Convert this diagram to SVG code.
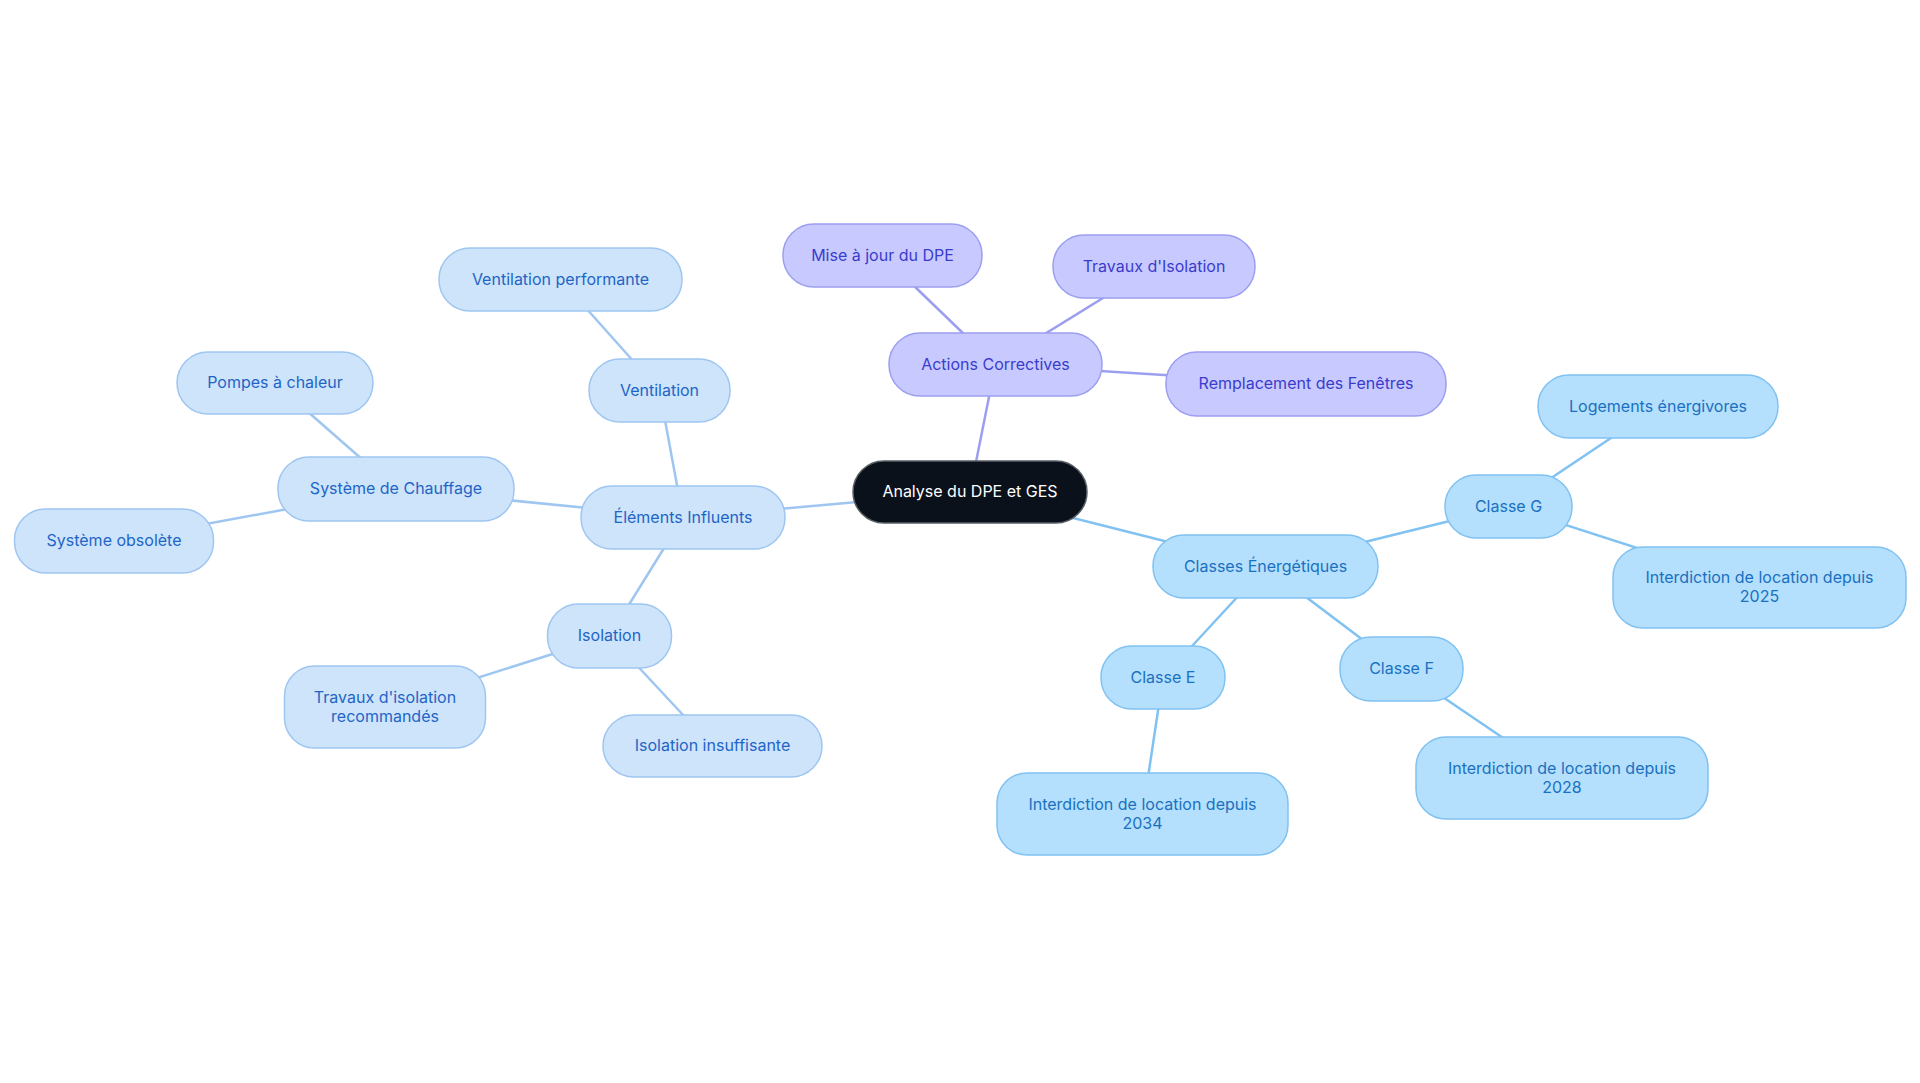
<svg xmlns="http://www.w3.org/2000/svg" width="1920" height="1083" viewBox="0 0 1920 1083">
<style>
text{font-family:Inter,"Noto Sans","Liberation Sans",sans-serif;font-size:16px;text-anchor:middle;dominant-baseline:central;transform:translateY(-1px)}
.c rect{fill:#0b111b;stroke:#5a5f66;stroke-width:1.5}
.c text{fill:#ffffff}
.b rect{fill:#cde4fb;stroke:#9fc6f1;stroke-width:1.5}
.b text{fill:#1f64c6}
.p rect{fill:#c8caff;stroke:#9c9ff0;stroke-width:1.5}
.p text{fill:#3a3ccc}
.s rect{fill:#b4dffd;stroke:#80c2f1;stroke-width:1.5}
.s text{fill:#1a71c0}
.eb{stroke:#9fc6f1}
.ep{stroke:#9c9ff0}
.es{stroke:#80c2f1}
#edges line{stroke-width:2.5}
</style>
<rect width="1920" height="1083" fill="#ffffff"/>
<g id="edges">
<line class="eb" x1="970" y1="492" x2="683" y2="517.5"/>
<line class="eb" x1="683" y1="517.5" x2="659.5" y2="390.5"/>
<line class="eb" x1="659.5" y1="390.5" x2="560.5" y2="279.5"/>
<line class="eb" x1="683" y1="517.5" x2="396" y2="489"/>
<line class="eb" x1="396" y1="489" x2="275" y2="383"/>
<line class="eb" x1="396" y1="489" x2="114" y2="541"/>
<line class="eb" x1="683" y1="517.5" x2="609.5" y2="636"/>
<line class="eb" x1="609.5" y1="636" x2="385" y2="707"/>
<line class="eb" x1="609.5" y1="636" x2="712" y2="746"/>
<line class="ep" x1="970" y1="492" x2="995.5" y2="364.5"/>
<line class="ep" x1="995.5" y1="364.5" x2="882.5" y2="255.5"/>
<line class="ep" x1="995.5" y1="364.5" x2="1154" y2="266.5"/>
<line class="ep" x1="995.5" y1="364.5" x2="1306" y2="384"/>
<line class="es" x1="970" y1="492" x2="1265.5" y2="566.5"/>
<line class="es" x1="1265.5" y1="566.5" x2="1508.5" y2="506.5"/>
<line class="es" x1="1508.5" y1="506.5" x2="1658" y2="406.5"/>
<line class="es" x1="1508.5" y1="506.5" x2="1759.5" y2="587.5"/>
<line class="es" x1="1265.5" y1="566.5" x2="1401.5" y2="669"/>
<line class="es" x1="1401.5" y1="669" x2="1562" y2="778"/>
<line class="es" x1="1265.5" y1="566.5" x2="1163" y2="677.5"/>
<line class="es" x1="1163" y1="677.5" x2="1142.5" y2="814"/>
</g>
<g id="n-central" class="c"><rect x="853" y="461" width="234" height="62" rx="31"/><text x="970" y="492">Analyse du DPE et GES</text></g>
<g id="n-elements" class="b"><rect x="581" y="486" width="204" height="63" rx="31"/><text x="683" y="517.5">Éléments Influents</text></g>
<g id="n-ventilation" class="b"><rect x="589" y="359" width="141" height="63" rx="31"/><text x="659.5" y="390.5">Ventilation</text></g>
<g id="n-ventperf" class="b"><rect x="439" y="248" width="243" height="63" rx="31"/><text x="560.5" y="279.5">Ventilation performante</text></g>
<g id="n-chauffage" class="b"><rect x="278" y="457" width="236" height="64" rx="31"/><text x="396" y="489">Système de Chauffage</text></g>
<g id="n-pompes" class="b"><rect x="177" y="352" width="196" height="62" rx="31"/><text x="275" y="383">Pompes à chaleur</text></g>
<g id="n-obsolete" class="b"><rect x="14.5" y="509" width="199" height="64" rx="31"/><text x="114" y="541">Système obsolète</text></g>
<g id="n-isolation" class="b"><rect x="547.5" y="604" width="124" height="64" rx="31"/><text x="609.5" y="636">Isolation</text></g>
<g id="n-travrec" class="b"><rect x="284.5" y="666" width="201" height="82" rx="30"/><text x="385" y="698">Travaux d'isolation</text><text x="385" y="717">recommandés</text></g>
<g id="n-insuff" class="b"><rect x="603" y="715" width="219" height="62" rx="31"/><text x="712.5" y="746">Isolation insuffisante</text></g>
<g id="n-actions" class="p"><rect x="889" y="333" width="213" height="63" rx="31"/><text x="995.5" y="364.5">Actions Correctives</text></g>
<g id="n-mise" class="p"><rect x="783" y="224" width="199" height="63" rx="31"/><text x="882.5" y="255.5">Mise à jour du DPE</text></g>
<g id="n-travisol" class="p"><rect x="1053" y="235" width="202" height="63" rx="31"/><text x="1154" y="266.5">Travaux d'Isolation</text></g>
<g id="n-fenetres" class="p"><rect x="1166" y="352" width="280" height="64" rx="31"/><text x="1306" y="384">Remplacement des Fenêtres</text></g>
<g id="n-classes" class="s"><rect x="1153" y="535" width="225" height="63" rx="31"/><text x="1265.5" y="566.5">Classes Énergétiques</text></g>
<g id="n-classeg" class="s"><rect x="1445" y="475" width="127" height="63" rx="31"/><text x="1508.5" y="506.5">Classe G</text></g>
<g id="n-logements" class="s"><rect x="1538" y="375" width="240" height="63" rx="31"/><text x="1658" y="406.5">Logements énergivores</text></g>
<g id="n-i2025" class="s"><rect x="1613" y="547" width="293" height="81" rx="30"/><text x="1759.5" y="578">Interdiction de location depuis</text><text x="1759.5" y="597">2025</text></g>
<g id="n-classef" class="s"><rect x="1340" y="637" width="123" height="64" rx="31"/><text x="1401.5" y="669">Classe F</text></g>
<g id="n-i2028" class="s"><rect x="1416" y="737" width="292" height="82" rx="30"/><text x="1562" y="768.5">Interdiction de location depuis</text><text x="1562" y="787.5">2028</text></g>
<g id="n-classee" class="s"><rect x="1101" y="646" width="124" height="63" rx="31"/><text x="1163" y="677.5">Classe E</text></g>
<g id="n-i2034" class="s"><rect x="997" y="773" width="291" height="82" rx="30"/><text x="1142.5" y="804.5">Interdiction de location depuis</text><text x="1142.5" y="823.5">2034</text></g>
</svg>
